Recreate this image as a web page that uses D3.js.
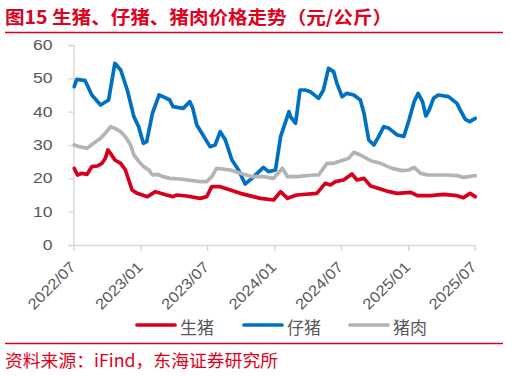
<!DOCTYPE html>
<html><head><meta charset="utf-8">
<script src="https://cdn.jsdelivr.net/npm/d3@7"></script>
<style>
body{margin:0;background:#fff;}
svg{display:block;}
text{font-family:"Liberation Sans","Noto Sans CJK SC",Arial,sans-serif;}
.cjk{font-family:"Noto Sans CJK SC","Liberation Sans",sans-serif;}
</style></head>
<body>
<svg id="c" width="510" height="376"></svg>
<script>
// ---- data ----
const titleText = "图15  生猪、仔猪、猪肉价格走势（元/公斤）";
const sourceText = "资料来源：iFind，东海证券研究所";
const seriesNames = ["生猪", "仔猪", "猪肉"];
const yTicks = [0, 10, 20, 30, 40, 50, 60];
const xTickLabels = ["2022/07","2023/01","2023/07","2024/01","2024/07","2025/01","2025/07"];

const hogDates = ["2022-07-03","2022-07-12","2022-07-24","2022-08-07","2022-08-20","2022-09-04","2022-09-17","2022-09-26","2022-10-03","2022-10-10","2022-10-22","2022-11-07","2022-11-20","2022-11-29","2022-12-08","2022-12-22","2023-01-05","2023-01-19","2023-02-10","2023-02-24","2023-03-12","2023-03-30","2023-04-09","2023-05-06","2023-06-12","2023-06-30","2023-07-14","2023-08-06","2023-09-03","2023-09-30","2023-11-24","2023-12-30","2024-01-18","2024-02-06","2024-03-02","2024-04-26","2024-05-19","2024-06-02","2024-06-16","2024-07-08","2024-07-31","2024-08-14","2024-09-02","2024-09-20","2024-10-17","2024-11-09","2024-12-02","2025-01-08","2025-01-26","2025-03-02","2025-04-08","2025-05-14","2025-06-01","2025-06-19","2025-07-03"];
const hogValues = [23,21,21.5,21.2,23.5,23.7,24.5,26,28.5,27.5,25.5,24.5,22.5,19.5,16.5,15.5,15,14.5,16,15.5,15,14.5,15,14.7,14,14.5,17.5,17.5,16.5,15.5,14,13.5,16,14,15,15.5,18.5,18,19,19.5,21.3,19.5,20,17.7,16.8,16,15.5,15.8,14.8,14.8,15.2,14.8,14.2,15.5,14.5];

const pigletDates = ["2022-07-03","2022-07-10","2022-08-02","2022-08-20","2022-09-13","2022-10-05","2022-10-22","2022-11-07","2022-11-25","2022-12-13","2022-12-26","2023-01-08","2023-01-17","2023-02-02","2023-02-20","2023-03-03","2023-03-21","2023-03-30","2023-04-27","2023-05-15","2023-05-23","2023-06-03","2023-06-17","2023-07-09","2023-07-23","2023-08-06","2023-08-20","2023-09-07","2023-09-25","2023-10-13","2023-11-01","2023-12-02","2023-12-16","2024-01-04","2024-01-18","2024-02-10","2024-02-14","2024-02-28","2024-03-11","2024-03-25","2024-04-08","2024-05-01","2024-05-14","2024-05-28","2024-06-11","2024-06-20","2024-07-04","2024-07-17","2024-08-05","2024-08-23","2024-09-02","2024-09-15","2024-09-29","2024-10-12","2024-10-26","2024-11-09","2024-12-02","2024-12-20","2025-01-03","2025-01-17","2025-01-28","2025-02-09","2025-02-18","2025-02-27","2025-03-11","2025-03-24","2025-04-21","2025-05-14","2025-05-23","2025-06-06","2025-06-18","2025-07-03"];
const pigletValues = [47.5,49.7,49.3,45,42,43.5,54.5,52.5,46.5,38.5,35.5,30.5,31,39.6,45,44.5,43.5,41.5,41,43,41,36,33.5,29.5,30,34,31.5,25.5,22.5,18.3,20,23.3,22,22.5,32.5,40,38.5,36.5,46.5,46.5,46,44,46.5,53,52,48.5,44.5,45.5,45,43.5,39.5,31.5,30,32.5,35.5,35,33,32.6,37.5,43,45.5,43,38.7,40.5,44,45,44.5,42.5,40.5,37.7,37,38];

const porkDates = ["2022-07-03","2022-07-17","2022-08-07","2022-08-25","2022-09-13","2022-09-26","2022-10-10","2022-10-22","2022-11-07","2022-11-20","2022-12-04","2022-12-13","2022-12-27","2023-01-09","2023-01-23","2023-02-02","2023-02-15","2023-03-03","2023-03-21","2023-04-18","2023-06-12","2023-06-30","2023-07-14","2023-07-27","2023-09-03","2023-09-30","2023-11-01","2023-12-02","2023-12-30","2024-01-23","2024-02-06","2024-03-02","2024-04-17","2024-05-01","2024-05-24","2024-06-11","2024-07-08","2024-07-22","2024-08-05","2024-08-23","2024-09-20","2024-10-17","2024-11-18","2024-12-15","2025-01-03","2025-01-17","2025-02-04","2025-02-23","2025-04-16","2025-05-14","2025-06-01","2025-07-03"];
const porkValues = [30,29.5,29,30.5,32,33.5,35.5,35,34,32.5,30,27,25,23.5,22.5,21,21.2,20.5,20,19.8,19,19,20.5,23,22.5,21.5,20.5,20.5,20,23,20.5,20.5,21,21,24.5,24.5,25.5,26,27.8,27,25.3,24.5,23,22.3,22.5,23.3,21.5,21,21,20.8,20.3,20.8];

const colors = ["#D7001C", "#0070C0", "#B4B4B4"];

// ---- layout ----
const svg = d3.select("#c");
const parse = d3.timeParse("%Y-%m-%d");
const x = d3.scaleTime().domain([parse("2022-07-01"), parse("2025-07-01")]).range([73.5, 474.5]);
const y = d3.scaleLinear().domain([0, 60]).range([245, 45]);

// title
svg.append("text").attr("class", "cjk").attr("x", 5).attr("y", 24).attr("fill", "#E00020")
  .style("font-size", "18px").style("font-weight", "bold")
  .attr("textLength", 387).attr("lengthAdjust", "spacingAndGlyphs").text(titleText);
svg.append("line").attr("x1", 5).attr("x2", 503).attr("y1", 32.5).attr("y2", 32.5)
  .attr("stroke", "#E00020").attr("stroke-width", 1.5);

// y axis
const gy = svg.append("g").attr("transform", "translate(73.5,0)")
  .call(d3.axisLeft(y).tickValues(yTicks).tickSize(5).tickPadding(16));
gy.select(".domain").attr("stroke", "#D9D9D9").attr("stroke-width", 1.5);
gy.selectAll(".tick line").attr("stroke", "#D9D9D9").attr("stroke-width", 1.5);
gy.selectAll(".tick text").attr("fill", "#595959").style("font-size", "14px")
  .attr("textLength", d => String(d).length * 9.8).attr("lengthAdjust", "spacingAndGlyphs");

// x axis
const xTickDates = xTickLabels.map(s => d3.timeParse("%Y/%m")(s));
const gx = svg.append("g").attr("transform", "translate(0,245)")
  .call(d3.axisBottom(x).tickValues(xTickDates).tickFormat(d3.timeFormat("%Y/%m")).tickSize(6).tickSizeOuter(0));
gx.select(".domain").attr("stroke", "#D9D9D9").attr("stroke-width", 1.5);
gx.selectAll(".tick line").attr("stroke", "#D9D9D9").attr("stroke-width", 1.5);
gx.selectAll(".tick text").attr("fill", "#595959").style("font-size", "15px")
  .attr("text-anchor", "end").attr("dy", null).attr("y", 0)
  .attr("textLength", 60).attr("lengthAdjust", "spacingAndGlyphs")
  .attr("transform", "translate(2.5,23) rotate(-45)");

// lines
const line = d3.line().x(d => x(d[0])).y(d => y(d[1]));
const series = [
  hogDates.map((d, i) => [parse(d), hogValues[i]]),
  pigletDates.map((d, i) => [parse(d), pigletValues[i]]),
  porkDates.map((d, i) => [parse(d), porkValues[i]])
];
series.forEach((s, i) => {
  svg.append("path").datum(s).attr("d", line).attr("fill", "none")
    .attr("stroke", colors[i]).attr("stroke-width", 3.7)
    .attr("stroke-linejoin", "round").attr("stroke-linecap", "round");
});

// legend
const legX = [137, 244, 350];
seriesNames.forEach((n, i) => {
  svg.append("line").attr("x1", legX[i]).attr("x2", legX[i] + 38).attr("y1", 325).attr("y2", 325)
    .attr("stroke", colors[i]).attr("stroke-width", 3.7).attr("stroke-linecap", "round");
  svg.append("text").attr("class", "cjk").attr("x", legX[i] + 43).attr("y", 334).attr("fill", "#595959")
    .style("font-size", "17px").text(n);
});

// source
svg.append("line").attr("x1", 5).attr("x2", 503).attr("y1", 343.5).attr("y2", 343.5)
  .attr("stroke", "#E00020").attr("stroke-width", 1.5);
svg.append("text").attr("class", "cjk").attr("x", 5).attr("y", 367).attr("fill", "#E00020")
  .style("font-size", "17px").attr("textLength", 273).attr("lengthAdjust", "spacingAndGlyphs")
  .text(sourceText);
</script>
</body></html>
